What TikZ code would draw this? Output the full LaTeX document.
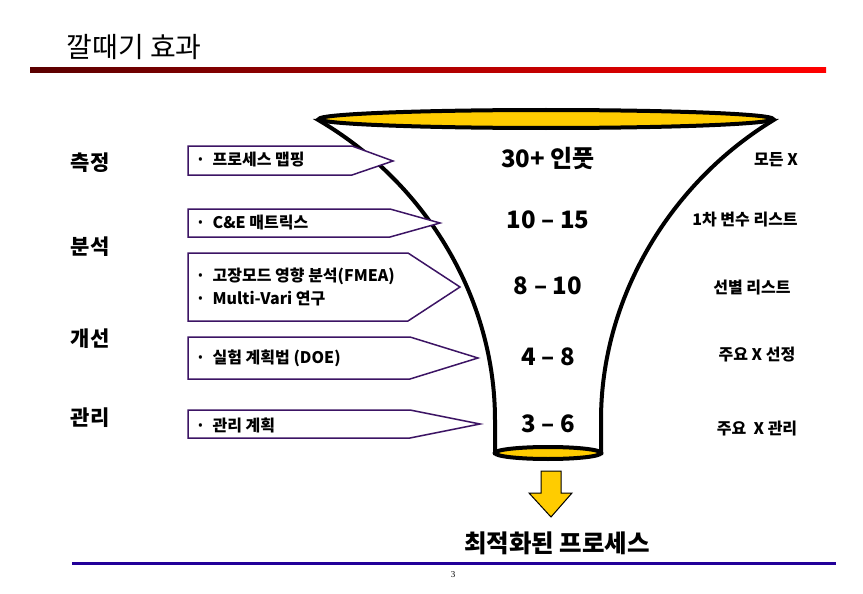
\documentclass[tikz,border=0pt]{standalone}
\usepackage{fontspec}
\setmainfont{Liberation Serif}
\newfontfamily\kr{Noto Sans CJK KR}
\definecolor{funnelyellow}{RGB}{255,204,0}
\definecolor{darkbar}{RGB}{90,0,0}
\definecolor{boxpurple}{RGB}{60,20,100}
\definecolor{linieblue}{RGB}{34,0,153}
\tikzset{
	caixa/.style={draw=boxpurple, line width=1.5pt, fill=white, line join=miter},
	passo/.style={font=\kr\bfseries\fontsize{21}{23}\selectfont},
	valor/.style={font=\kr\bfseries\fontsize{24}{26}\selectfont},
	lista/.style={font=\kr\bfseries\fontsize{16}{18}\selectfont},
	itens/.style={font=\kr\bfseries\fontsize{16}{23}\selectfont, align=left, anchor=west}
}
\begin{document}
\begin{tikzpicture}[x=1pt, y=-1pt]
	
		\useasboundingbox (0,0) rectangle (863,594);
		
		% Titulo
		
		\draw node[font=\kr\fontsize{28}{30}\selectfont, anchor=west] (titulo) at (63, 47) {깔때기 효과} ;
		
		\shade[left color=darkbar, right color=red] (30, 68) rectangle (826, 73);
		
		% Funil
		
		\draw[line width=4pt, fill=white] (320, 121) .. controls (428, 185) and (495, 300) .. (495, 420) -- (495, 453) -- (601, 453) -- (601, 420) .. controls (601, 300) and (668, 185) .. (772, 121) -- cycle;
		
		\draw[line width=4pt, fill=funnelyellow] (546, 119) ellipse (227 and 9);
		
		\draw[line width=4pt, fill=funnelyellow] (548, 453) ellipse (53 and 6);
		
		\draw[line width=1pt, fill=funnelyellow] (541, 471) -- (561, 471) -- (561, 493) -- (572, 493) -- (551, 517) -- (529, 493) -- (541, 493) -- cycle;
		
		% Caixas
		
		\draw[caixa] (188, 146) -- (352, 146) -- (393, 161) -- (352, 175) -- (188, 175) -- cycle;
		
		\draw[caixa] (188, 209) -- (390, 209) -- (440, 223) -- (390, 237) -- (188, 237) -- cycle;
		
		\draw[caixa] (188, 253) -- (408, 253) -- (460, 287) -- (408, 321) -- (188, 321) -- cycle;
		
		\draw[caixa] (188, 337) -- (410, 337) -- (478, 358) -- (410, 379) -- (188, 379) -- cycle;
		
		\draw[caixa] (188, 410) -- (410, 410) -- (480, 424) -- (410, 438) -- (188, 438) -- cycle;
		
		\draw node[itens] (item1) at (192, 160) {·\ \ 프로세스 맵핑} ;
		
		\draw node[itens] (item2) at (192, 223) {·\ \ C\&E 매트릭스} ;
		
		\draw node[itens] (item3) at (192, 287) {·\ \ 고장모드 영향 분석(FMEA)\\·\ \ Multi-Vari 연구} ;
		
		\draw node[itens] (item4) at (192, 358) {·\ \ 실험 계획법 (DOE)} ;
		
		\draw node[itens] (item5) at (192, 425) {·\ \ 관리 계획} ;
		
		% Etapas
		
		\draw node[passo] (medir) at (90, 163) {측정} ;
		
		\draw node[passo] (analisar) at (90, 247) {분석} ;
		
		\draw node[passo] (melhorar) at (90, 339) {개선} ;
		
		\draw node[passo] (controlar) at (90, 418) {관리} ;
		
		% Valores
		
		\draw node[valor] (v1) at (548, 158) {30+ 인풋} ;
		
		\draw node[valor] (v2) at (548, 220) {10 – 15} ;
		
		\draw node[valor] (v3) at (548, 286) {8 – 10} ;
		
		\draw node[valor] (v4) at (548, 357) {4 – 8} ;
		
		\draw node[valor] (v5) at (548, 424) {3 – 6} ;
		
		\draw node[lista] (l1) at (776, 160) {모든 X} ;
		
		\draw node[lista] (l2) at (745, 220) {1차 변수 리스트} ;
		
		\draw node[lista] (l3) at (752, 288) {선별 리스트} ;
		
		\draw node[lista] (l4) at (757, 355) {주요 X 선정} ;
		
		\draw node[lista] (l5) at (757, 429) {주요\ \ X 관리} ;
		
		% Rodape
		
		\draw node[font=\kr\bfseries\fontsize{24.5}{26}\selectfont] (resultado) at (557, 543) {최적화된 프로세스} ;
		
		\draw[line width=3pt, linieblue] (72, 563) -- (836, 563);
		
		\draw node[font=\fontsize{9}{10}\selectfont] (pagina) at (453, 575) {3} ;
		
	\end{tikzpicture}
\end{document}
